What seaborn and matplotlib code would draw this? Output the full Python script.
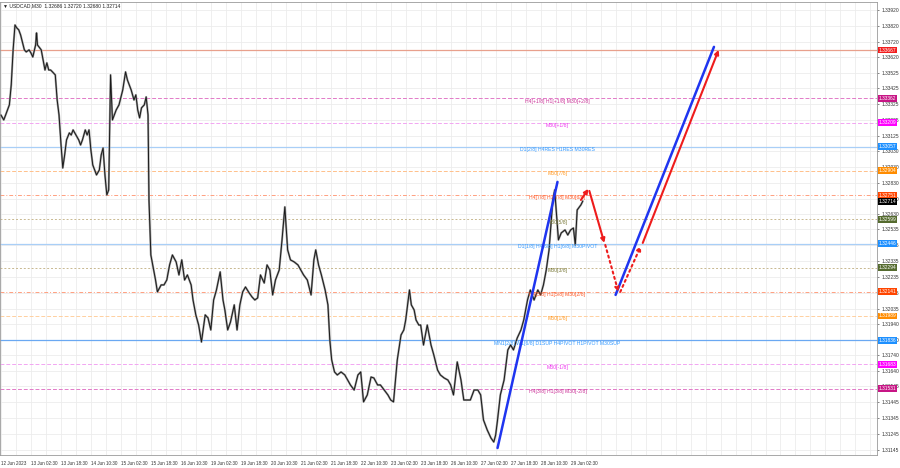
import matplotlib
matplotlib.use("Agg")
import matplotlib.pyplot as plt
import seaborn as sns
import pandas as pd

sns.set_style("white")
plt.rcParams["font.family"] = ["Liberation Sans", "DejaVu Sans"]

# ---------------- data ----------------
bars = [0, 3, 5, 9, 11, 13, 15, 17, 19, 21, 25, 27, 30, 32, 34, 37, 38, 39, 43, 45,
        47, 49, 51, 53, 55, 58, 60, 62, 64, 66, 68, 70, 73, 75, 77, 80, 83, 85, 87, 90,
        92, 94, 96, 98, 100, 102, 105, 107, 109, 111, 113, 115, 117, 119, 123, 126, 130, 133, 135, 139,
        142, 144, 146, 148, 150, 153, 155, 157, 158, 160, 162, 165, 167, 171, 174, 177, 180, 183, 187, 190,
        193, 196, 199, 203, 205, 208, 211, 214, 218, 221, 224, 227, 230, 234, 237, 239, 242, 245, 249, 252,
        255, 258, 261, 265, 268, 271, 274, 277, 281, 284, 287, 290, 293, 297, 300, 303, 306, 309, 313, 317,
        320, 323, 327, 331, 334, 336, 339, 342, 346, 349, 351, 353, 356, 359, 363, 367, 370, 373, 377, 381,
        384, 387, 391, 395, 398, 402, 405, 409, 413, 416, 419, 423, 427, 430, 432, 434, 436, 438, 441, 443,
        446, 448, 451, 455, 459, 462, 466, 469, 473, 477, 480, 483, 487, 491, 494, 498, 501, 505, 509, 512,
        515, 519, 523, 526, 528, 530, 533, 537, 541, 544, 547, 551, 555, 558, 562, 565, 569, 573, 576, 579,
        582, 585, 587, 589, 591, 593, 595, 598, 602, 605, 608, 611, 613, 615, 619, 621]
closes = [1.33257, 1.33226, 1.33257, 1.33321, 1.33447, 1.33668, 1.33825, 1.33806, 1.33794, 1.33762,
          1.33668, 1.33655, 1.33668, 1.33649, 1.33623, 1.33699, 1.33775, 1.33699, 1.33668, 1.33604,
          1.33541, 1.33586, 1.33541, 1.33541, 1.33529, 1.33510, 1.33352, 1.33257, 1.33081, 1.32923,
          1.33005, 1.33100, 1.33144, 1.33131, 1.33163, 1.33131, 1.33100, 1.33068, 1.33100, 1.33163,
          1.33131, 1.33163, 1.33037, 1.32942, 1.32910, 1.32879, 1.32910, 1.33005, 1.33049, 1.32879,
          1.32753, 1.32784, 1.33510, 1.33226, 1.33289, 1.33321, 1.33415, 1.33529, 1.33478, 1.33415,
          1.33352, 1.33384, 1.33289, 1.33239, 1.33302, 1.33321, 1.33371, 1.33257, 1.32721, 1.32374,
          1.32311, 1.32216, 1.32141, 1.32185, 1.32185, 1.32216, 1.32311, 1.32374, 1.32330, 1.32248,
          1.32343, 1.32216, 1.32248, 1.32185, 1.32090, 1.31996, 1.31932, 1.31825, 1.31996, 1.31977,
          1.31901, 1.32090, 1.32153, 1.32267, 1.32090, 1.32027, 1.31901, 1.31951, 1.32059, 1.31901,
          1.32059, 1.32141, 1.32172, 1.32134, 1.32109, 1.32090, 1.32103, 1.32248, 1.32197, 1.32311,
          1.32279, 1.32122, 1.32216, 1.32279, 1.32469, 1.32677, 1.32406, 1.32343, 1.32330, 1.32311,
          1.32279, 1.32248, 1.32216, 1.32122, 1.32343, 1.32406, 1.32311, 1.32248, 1.32153, 1.32059,
          1.31838, 1.31712, 1.31636, 1.31617, 1.31636, 1.31617, 1.31585, 1.31554, 1.31522, 1.31617,
          1.31636, 1.31447, 1.31491, 1.31604, 1.31598, 1.31554, 1.31554, 1.31522, 1.31491, 1.31459,
          1.31447, 1.31712, 1.31869, 1.31901, 1.31964, 1.32059, 1.32153, 1.32059, 1.32027, 1.31964,
          1.31932, 1.31932, 1.31806, 1.31932, 1.31806, 1.31743, 1.31648, 1.31617, 1.31598, 1.31585,
          1.31554, 1.31491, 1.31699, 1.31585, 1.31459, 1.31459, 1.31459, 1.31522, 1.31522, 1.31491,
          1.31333, 1.31270, 1.31219, 1.31194, 1.31238, 1.31333, 1.31491, 1.31585, 1.31775, 1.31806,
          1.31775, 1.31850, 1.31901, 1.31964, 1.32090, 1.32153, 1.32090, 1.32153, 1.32122, 1.32185,
          1.32279, 1.32406, 1.32563, 1.32721, 1.32784, 1.32626, 1.32469, 1.32513, 1.32532, 1.32500,
          1.32532, 1.32544, 1.32437, 1.32658, 1.32690, 1.32714]

time_labels = ["12 Jun 2023", "13 Jun 02:30", "13 Jun 18:30", "14 Jun 10:30", "15 Jun 02:30",
               "15 Jun 18:30", "16 Jun 10:30", "19 Jun 02:30", "19 Jun 18:30", "20 Jun 10:30",
               "21 Jun 02:30", "21 Jun 18:30", "22 Jun 10:30", "23 Jun 02:30", "23 Jun 18:30",
               "26 Jun 10:30", "27 Jun 02:30", "27 Jun 18:30", "28 Jun 10:30", "29 Jun 02:30"]
time_ticks = [0, 32, 64, 96, 128, 160, 192, 224, 256, 288, 320, 352, 384, 416, 448,
              480, 512, 544, 576, 608]
grid_x = list(range(0, 944, 16))

price_ticks = [1.33920, 1.33820, 1.33720, 1.33620, 1.33525, 1.33425, 1.33325, 1.33225,
               1.33125, 1.33030, 1.32930, 1.32830, 1.32730, 1.32630, 1.32535, 1.32435,
               1.32335, 1.32235, 1.32135, 1.32035, 1.31940, 1.31840, 1.31740, 1.31640,
               1.31545, 1.31445, 1.31345, 1.31245, 1.31145]

level_prices = [1.33667, 1.33362, 1.33209, 1.33057, 1.32904, 1.32751, 1.32599, 1.32446,
                1.32294, 1.32141, 1.31989, 1.31836, 1.31683, 1.31531]
level_texts = ["", "H4[+1/8] H1[+1/8] M30[+2/8]", "M30[+1/8]", "D1[2/8] H4RES H1RES M30RES",
               "M30[7/8]", "H4[7/8] H1[7/8] M30[6/8]", "M30[5/8]",
               "D1[1/8] H4[6/8] H1[6/8] M30PIVOT", "M30[3/8]", "H4[5/8] H1[5/8] M30[2/8]",
               "M30[1/8]", "MN1[2/8] W1[6/8] D1SUP H4PIVOT H1PIVOT M30SUP", "M30[-1/8]",
               "H4[3/8] H1[3/8] M30[-2/8]"]
level_line_colors = ["#e8a08c", "#e27ac8", "#f2a6f2", "#a9cff7", "#ffc08a", "#ffa080",
                     "#c8b890", "#a9cff7", "#c8b890", "#ffa080", "#ffd0a0", "#6aa8f2",
                     "#f2a6f2", "#e27ac8"]
level_styles = ["-", (0, (4, 2)), (0, (4, 2)), "-", (0, (4, 2)), (0, (4, 2, 1, 2)),
                (0, (2, 2)), "-", (0, (2, 2)), (0, (4, 2, 1, 2)), (0, (4, 2)), "-",
                (0, (4, 2)), (0, (4, 2))]
level_text_colors = ["#ee2222", "#cc3399", "#ee33ee", "#3399ff", "#ff9922", "#ff5522",
                     "#7a7a3a", "#3399ff", "#7a7a3a", "#ff5522", "#ff9922", "#3399ff",
                     "#ee33ee", "#cc3399"]
box_colors = ["#f21d1d", "#c71585", "#ff00ff", "#1e90ff", "#ff8c00", "#ff4500",
              "#556b2f", "#1e90ff", "#556b2f", "#ff4500", "#ff8c00", "#1e90ff",
              "#ff00ff", "#c71585"]
current_price = 1.32714
label_bar = 594

# forecast overlay (bar, price)
trend_x = [530, 594]
trend_y = [1.31156, 1.32835]
fc_blue_x = [656, 761]
fc_blue_y = [1.32122, 1.33687]
red_up1_x = [619, 627]
red_up1_y = [1.32721, 1.32791]
red_down_x = [628, 644]
red_down_y = [1.32778, 1.32450]
red_dot1_x = [645, 659]
red_dot1_y = [1.32437, 1.32141]
red_dot2_x = [661, 683]
red_dot2_y = [1.32141, 1.32431]
red_up2_x = [685, 766]
red_up2_y = [1.32450, 1.33668]

# ---------------- figure ----------------
fig = plt.figure(figsize=(9, 4.68), dpi=100)
ax = fig.add_axes([0.0, 13 / 468, 877 / 900, 453 / 468])
ax.set_xlim(-1, 935)
ax.set_ylim(1.31112, 1.33970)

# grid
ax.set_xticks(time_ticks)
ax.set_xticks(grid_x, minor=True)
ax.set_xticklabels(time_labels, ha="left", fontsize=3.3)
ax.set_yticks(price_ticks)
ax.set_yticklabels([f"{p:.5f}" for p in price_ticks], fontsize=3.5)
ax.yaxis.tick_right()
ax.tick_params(axis="x", which="major", length=2, pad=2, width=0.5, colors="#555555")
ax.tick_params(axis="x", which="minor", length=0)
ax.tick_params(axis="y", length=1.5, pad=1.5, width=0.5, colors="#555555")
for lab in ax.get_xticklabels() + ax.get_yticklabels():
    lab.set_color("#333333")
ax.grid(True, which="both", axis="x", color="#ececec", lw=0.6)
ax.grid(True, which="major", axis="y", color="#ececec", lw=0.6)
ax.set_axisbelow(True)
for s in ax.spines.values():
    s.set_color("#9a9a9a")
    s.set_linewidth(0.6)

# levels
for p, t, lc, ls, tc, bc in zip(level_prices, level_texts, level_line_colors, level_styles,
                                level_text_colors, box_colors):
    ax.axhline(p, color=lc, ls=ls, lw=0.9 if ls == "-" else 0.7, zorder=1)
    if t:
        ax.annotate(t, (label_bar, p), xytext=(0, -2), textcoords="offset points",
                    ha="center", va="center", fontsize=3.7, color=tc, zorder=4)
    ax.text(1.002, p, f"{p:.5f}", transform=ax.get_yaxis_transform(), fontsize=3.5,
            color="white", va="center", ha="left", clip_on=False, zorder=6,
            bbox=dict(facecolor=bc, edgecolor="none", pad=0.7))
ax.text(1.002, current_price, f"{current_price:.5f}", transform=ax.get_yaxis_transform(),
        fontsize=3.5, color="white", va="center", ha="left", clip_on=False, zorder=7,
        bbox=dict(facecolor="black", edgecolor="none", pad=0.7))

# price
df = pd.DataFrame({"bar": bars, "close": closes})
sns.lineplot(data=df, x="bar", y="close", ax=ax, color="#9a9a9a", lw=1.5, zorder=2)
sns.lineplot(data=df, x="bar", y="close", ax=ax, color="#1a1a1a", lw=0.7, zorder=3)

# overlays
blue = "#1f35f0"
red = "#ee1c1c"
sns.lineplot(x=trend_x, y=trend_y, ax=ax, color=blue, lw=1.8, zorder=5)
sns.lineplot(x=fc_blue_x, y=fc_blue_y, ax=ax, color=blue, lw=1.8, zorder=5)
for xs, ys, ls in [(red_up1_x, red_up1_y, "-"), (red_down_x, red_down_y, "-"),
                   (red_dot1_x, red_dot1_y, ":"), (red_dot2_x, red_dot2_y, ":"),
                   (red_up2_x, red_up2_y, "-")]:
    ax.annotate("", xy=(xs[1], ys[1]), xytext=(xs[0], ys[0]),
                arrowprops=dict(arrowstyle="-|>", color=red, lw=1.5, ls=ls,
                                mutation_scale=6, shrinkA=0, shrinkB=0), zorder=5)

ax.set_xlabel("")
ax.set_ylabel("")
ax.text(0.003, 0.997, "\u25bc USDCAD,M30  1.32686 1.32720 1.32680 1.32714",
        transform=ax.transAxes, fontsize=3.6, va="top", ha="left", color="#222222")

fig.savefig("out.png", dpi=100)
